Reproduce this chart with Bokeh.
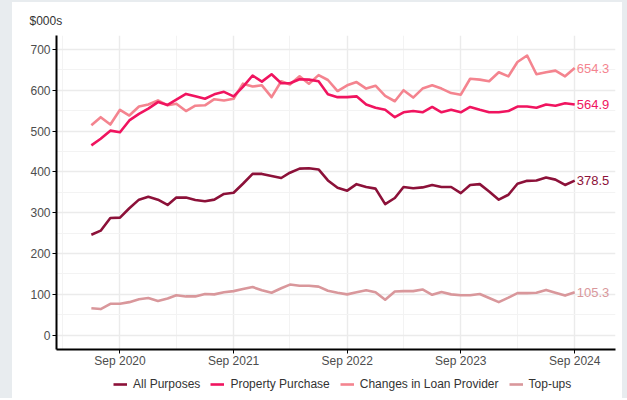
import pandas as pd
from bokeh.plotting import figure
from bokeh.layouts import column
from bokeh.models import Range1d, FixedTicker, DatetimeTickFormatter, Legend, LegendItem
from bokeh.core.properties import value
from bokeh.embed import file_html
from bokeh.resources import INLINE

months = pd.date_range("2020-06-01", "2024-09-01", freq="MS")

all_purposes = [246, 256, 287, 288, 311, 332, 339, 332, 319, 337,
                337, 331, 328, 332, 346, 349, 371, 395, 395, 390,
                385, 398, 408, 409, 406, 379, 361, 354, 370, 363,
                359, 321, 336, 363, 360, 362, 368, 363, 363, 348,
                368, 370, 352, 332, 344, 371, 378, 379, 386, 381,
                368, 378.5]
property_purchase = [465, 481, 501, 497, 526, 542, 555, 571, 564, 577,
                     591, 585, 579, 590, 596, 585, 608, 636, 621, 639,
                     617, 617, 627, 626, 622, 590, 583, 583, 585, 565,
                     557, 552, 534, 546, 549, 546, 559, 546, 552, 546,
                     559, 552, 546, 546, 549, 560, 560, 557, 565, 562,
                     568, 564.9]
loan_provider = [514, 534, 516, 552, 538, 560, 565, 575, 563, 567,
                 549, 562, 563, 578, 575, 579, 616, 609, 612, 583,
                 622, 614, 634, 616, 637, 625, 598, 612, 620, 604,
                 611, 586, 573, 600, 582, 604, 612, 604, 593, 589,
                 628, 626, 622, 644, 634, 669, 685, 639, 644, 648,
                 634, 654.3]
top_ups = [66, 64, 77, 77, 81, 88, 91, 84, 90, 98,
           95, 95, 101, 100, 105, 108, 113, 118, 110, 104,
           115, 124, 121, 121, 119, 109, 104, 100, 105, 110,
           105, 87, 107, 108, 108, 112, 99, 106, 100, 98,
           98, 101, 91, 81, 92, 103, 103, 104, 111, 104,
           97, 105.3]

series_names = ["All Purposes", "Property Purchase", "Changes in Loan Provider", "Top-ups"]
series_colors = ["#8c1139", "#f0145f", "#f4848f", "#d9979b"]

x_major = ["2020-09-01", "2021-09-01", "2022-09-01", "2023-09-01", "2024-09-01"]
x_minor = ["2020-03-01", "2021-03-01", "2022-03-01", "2023-03-01", "2024-03-01"]
y_major = [0, 100, 200, 300, 400, 500, 600, 700]
y_minor = [50, 150, 250, 350, 450, 550, 650]

def ms(s):
    return pd.Timestamp(s).value / 1e6

FONT = "Liberation Sans"

p = figure(frame_width=559, frame_height=314, x_axis_type="datetime",
           output_backend="svg", toolbar_location=None,
           x_range=Range1d(ms("2020-02-10"), ms("2025-01-10")),
           y_range=Range1d(-35, 734),
           min_border_left=44, min_border_right=7,
           min_border_top=33, min_border_bottom=20)
p.margin = (2, 5, 0, 12)
p.outline_line_color = None
p.background_fill_color = "white"
p.border_fill_color = "white"

p.title.text = "$000s"
p.title.align = "left"
p.title.offset = -27
p.title.standoff = 15
p.title.text_font = FONT
p.title.text_font_size = "12px"
p.title.text_font_style = "normal"
p.title.text_color = "#333333"

p.xaxis.ticker = FixedTicker(ticks=[ms(t) for t in x_major], minor_ticks=[ms(t) for t in x_minor])
p.xaxis.formatter = DatetimeTickFormatter(days="%b %Y", months="%b %Y", years="%b %Y")
p.yaxis.ticker = FixedTicker(ticks=y_major, minor_ticks=y_minor)

for ax in (p.xaxis, p.yaxis):
    ax.axis_line_color = "black"
    ax.axis_line_width = 2
    ax.major_tick_line_color = "black"
    ax.major_tick_out = 4
    ax.major_tick_in = 0
    ax.minor_tick_out = 0
    ax.minor_tick_in = 0
    ax.major_label_text_font = FONT
    ax.major_label_text_font_size = "12px"
    ax.major_label_text_color = "#4d4d4d"
p.xaxis.major_label_standoff = 0
p.yaxis.major_label_standoff = 2

p.xgrid.grid_line_color = "#ebebeb"
p.ygrid.grid_line_color = "#ebebeb"
p.xgrid.grid_line_width = 1.4
p.ygrid.grid_line_width = 1.4
p.xgrid.minor_grid_line_color = "#f3f3f3"
p.ygrid.minor_grid_line_color = "#f3f3f3"
p.xgrid.minor_grid_line_width = 1
p.ygrid.minor_grid_line_width = 1

data = [all_purposes, property_purchase, loan_provider, top_ups]
for idx in [3, 2, 1, 0]:
    p.line(list(months), data[idx], line_color=series_colors[idx],
           line_width=2.6, line_join="round")

last_x = [months[-1]] * 4
last_y = [d[-1] for d in data]
p.text(x=last_x, y=last_y, text=[f"{v:.1f}" for v in last_y],
       text_color=series_colors, text_font=value(FONT), text_font_size="13px",
       text_align="left", text_baseline="middle", x_offset=2)

# legend strip below the chart (its series are kept out of view; only the key is shown)
lg = figure(width=610, height=28, output_backend="svg", toolbar_location=None,
            x_axis_type="datetime", x_axis_location=None, y_axis_location=None,
            y_range=Range1d(10000, 10001),
            min_border=0, min_border_left=0, min_border_right=0,
            min_border_top=0, min_border_bottom=0)
lg.margin = (0, 5, 0, 12)
lg.outline_line_color = None
lg.grid.visible = False
lg.background_fill_color = "white"
lg.border_fill_color = "white"
leg_renderers = [lg.line(list(months), d, line_color=c, line_width=2.6)
                 for d, c in zip(data, series_colors)]

legend = Legend(items=[LegendItem(label=n, renderers=[r]) for n, r in zip(series_names, leg_renderers)],
                orientation="horizontal", location=(57, 7))
legend.label_text_font = FONT
legend.label_text_font_size = "12px"
legend.label_text_color = "#333333"
legend.glyph_width = 14
legend.glyph_height = 12
legend.label_height = 12
legend.label_standoff = 6
legend.spacing = 10
legend.padding = 0
legend.margin = 0
legend.border_line_color = None
legend.background_fill_alpha = 0
lg.add_layout(legend, "center")

bg = ("linear-gradient(to right, #e8ecef 0px, #e8ecef 12px, rgba(255,255,255,0) 12px, "
      "rgba(255,255,255,0) 622px, #e8ecef 622px), "
      "linear-gradient(to bottom, #e8ecef 0px, #e8ecef 2px, #ffffff 2px)")
page = column(p, lg, spacing=0, styles={"background": bg})
open("out.html", "w").write(file_html(page, INLINE))
